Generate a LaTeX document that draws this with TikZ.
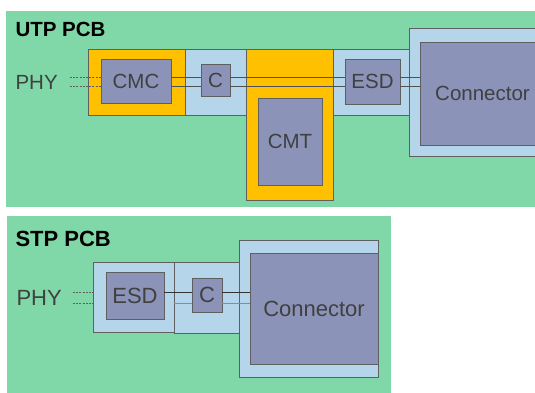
\documentclass[tikz,border=0pt]{standalone}
\usepackage{fontspec}
\setmainfont{Liberation Sans}
\usetikzlibrary{positioning}

\definecolor{pcbgreen}{RGB}{128,215,167}
\definecolor{padblue}{RGB}{180,213,234}
\definecolor{padorange}{RGB}{255,192,0}
\definecolor{partgray}{RGB}{139,147,184}
\definecolor{edgegray}{RGB}{95,95,95}
\definecolor{labelgray}{RGB}{64,64,64}

\begin{document}
\begin{tikzpicture}[x=1pt,y=-1pt,
    box/.style={draw=edgegray,line width=0.7pt,inner sep=0pt,outer sep=0pt,
        anchor=north west,text=labelgray},
    bluepad/.style={box,fill=padblue},
    orangepad/.style={box,fill=padorange},
    part/.style={box,fill=partgray},
    wire/.style={draw=edgegray!85!black,line width=0.9pt},
    lightwire/.style={draw=edgegray!60!padblue,line width=0.8pt},
    phywire/.style={draw=edgegray,line width=0.5pt,dash pattern=on 2pt off 1.2pt},
    toplbl/.style={font=\fontsize{20.5}{24}\selectfont},
    botlbl/.style={font=\fontsize{22}{26}\selectfont}]
\useasboundingbox (0,0) rectangle (535,392);

% --- UTP board ---
\def\wireA{77}
\def\wireB{86}
\fill[pcbgreen] (6,11) rectangle (545,207);
\node[anchor=west,font=\fontsize{20.5}{24}\selectfont\bfseries] (utp) at (12,29) {UTP PCB};

\node[orangepad,minimum width=97,minimum height=66] (cmcpad) at (88,49) {};
\node[bluepad,minimum width=61,minimum height=66] (cpad) at (185,49) {};
\node[orangepad,minimum width=87,minimum height=151] (cmtpad) at (246,49) {};
\node[bluepad,minimum width=76,minimum height=66] (esdpad) at (333,49) {};
\node[bluepad,minimum width=140,minimum height=128] (connpad) at (409,28) {};

\node[part,toplbl,minimum width=70,minimum height=44] (cmc) at (101,59) {CMC};
\node[part,toplbl,minimum width=29,minimum height=32] (c) at (201,64) {C};
\node[part,toplbl,minimum width=64,minimum height=87] (cmt) at (258,98) {CMT};
\node[part,toplbl,minimum width=55,minimum height=45] (esd) at (345,59) {ESD};
\node[part,toplbl,minimum width=125,minimum height=103,text depth=0pt] (conn) at (420,42) {Connector};

\node[toplbl,text=labelgray,anchor=west] (phy) at (12,82) {PHY};
\coordinate (phyA) at (70,\wireA);
\coordinate (phyB) at (70,\wireB);

\foreach \w in {\wireA,\wireB} {
    \draw[wire] (cmc.east |- 0,\w) -- (c.west |- 0,\w);
    \draw[wire] (c.east |- 0,\w) -- (esd.west |- 0,\w);
    \draw[wire] (esd.east |- 0,\w) -- (conn.west |- 0,\w);
}
\draw[phywire] (phyA) -- (cmc.west |- phyA);
\draw[phywire] (phyB) -- (cmc.west |- phyB);

% --- STP board ---
\def\wireC{292}
\def\wireD{303}
\fill[pcbgreen] (7,216) rectangle (391,400);
\node[anchor=west,font=\fontsize{22}{26}\selectfont\bfseries] (stp) at (12,239) {STP PCB};

\node[bluepad,minimum width=81,minimum height=70] (esdpad2) at (93,262) {};
\node[bluepad,minimum width=65,minimum height=71] (cpad2) at (174,262) {};
\node[bluepad,minimum width=139,minimum height=137] (connpad2) at (239,240) {};

\node[part,botlbl,minimum width=58,minimum height=47] (esd2) at (106,272) {ESD};
\node[part,botlbl,minimum width=30,minimum height=34] (c2) at (192,278) {C};
\node[part,botlbl,minimum width=128,minimum height=111,text depth=0pt] (conn2) at (250,253) {Connector};

\node[botlbl,text=labelgray,anchor=west] (phy2) at (13,298) {PHY};
\coordinate (phyC) at (73,\wireC);
\coordinate (phyD) at (73,\wireD);

\draw[wire,draw=black!80] (esd2.east |- 0,\wireC) -- (c2.west |- 0,\wireC);
\draw[wire,draw=black!80] (c2.east |- 0,\wireC) -- (conn2.west |- 0,\wireC);
\draw[lightwire] (esdpad2.east |- 0,\wireD) -- (c2.west |- 0,\wireD);
\draw[lightwire] (c2.east |- 0,\wireD) -- (conn2.west |- 0,\wireD);
\draw[phywire] (phyC) -- (esdpad2.west |- phyC);
\draw[phywire] (phyD) -- (esdpad2.west |- phyD);
\end{tikzpicture}
\end{document}
